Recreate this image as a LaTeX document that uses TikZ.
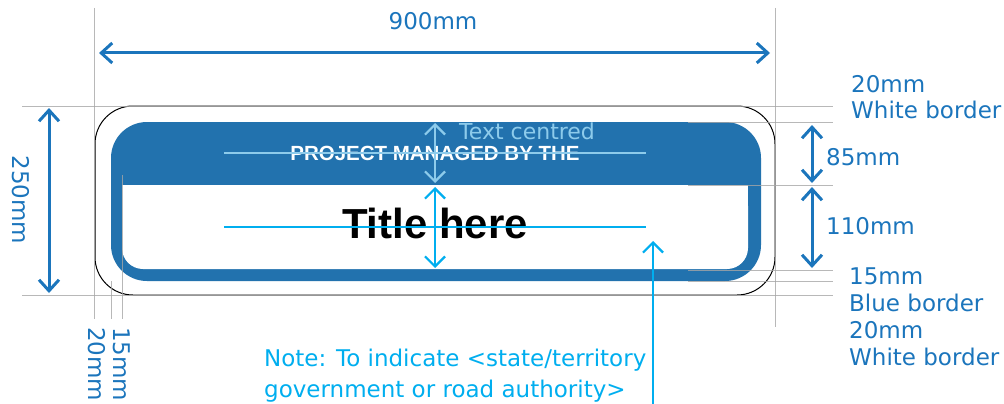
\documentclass[tikz,border=0pt]{standalone}
\usepackage{fontspec}
\setmainfont{DejaVu Sans}
\newfontfamily\arialfont{Liberation Sans}
\usetikzlibrary{arrows.meta}

\definecolor{signblue}{HTML}{2272AE}
\definecolor{dimblue}{HTML}{1B75BC}
\definecolor{paleblue}{HTML}{8DCBEB}
\definecolor{cyanline}{HTML}{00AEEF}
\definecolor{guidegrey}{HTML}{A6A6A6}

\tikzset{
  guide/.style={guidegrey, line width=1pt, opacity=0.8},
  barb/.tip={Straight Barb[length=11pt,width=20pt]},
  dimarrow/.style={dimblue, line width=3pt, barb-barb},
  midarrow/.style={line width=2.2pt, {Straight Barb[length=10pt,width=20pt]}-{Straight Barb[length=10pt,width=20pt]}},
  dimlabel/.style={dimblue, inner sep=0pt, font=\fontsize{23}{26}\selectfont},
}

\begin{document}
\begin{tikzpicture}[x=1pt,y=-1pt]
  \useasboundingbox (0,0) rectangle (1004,404);
  % sign panel
  \draw[black, line width=1pt, fill=white, rounded corners=38pt] (95,106) rectangle (775,295);
  \fill[signblue, rounded corners=36pt] (111,122) rectangle (761,281);
  \fill[white, rounded corners=21pt] (122,185) rectangle (748,269);
  \fill[white] (122,185) rectangle (748,220);
  % guide lines
  \draw[guide] (94,8) -- (94,319);
  \draw[guide] (775,8) -- (775,327);
  \draw[guide] (111,281) -- (111,319);
  \draw[guide] (122,175) -- (122,319);
  \draw[guide] (22,106) -- (833,106);
  \draw[guide] (22,295) -- (833,295);
  \foreach \y in {122,185,270,281}
    \draw[guide] (688,\y) -- (833,\y);
  % sign texts
  \node[font=\arialfont\bfseries\fontsize{20.5}{24}\selectfont, white, inner sep=0pt] (managed) at (435,153) {PROJECT MANAGED BY THE};
  \node[font=\arialfont\bfseries\fontsize{42}{48}\selectfont, black, inner sep=0pt] (title) at (435,223) {Title here};
  % centre lines
  \coordinate (top line l) at (224,153);
  \coordinate (top line r) at (646,153);
  \coordinate (title line l) at (224,227);
  \coordinate (title line r) at (646,227);
  \draw[paleblue, line width=2pt] (top line l) -- (top line r);
  \draw[cyanline, line width=2pt] (title line l) -- (title line r);
  \coordinate (band top) at (435,123);
  \coordinate (band bot) at (435,183);
  \coordinate (field top) at (435,187);
  \coordinate (field bot) at (435,268);
  \draw[midarrow, paleblue] (band top) -- (band bot);
  \draw[midarrow, cyanline] (field top) -- (field bot);
  \node[paleblue, inner sep=0pt, anchor=west, font=\fontsize{22}{26}\selectfont] (centred) at (459,131) {Text centred};
  % note
  \coordinate (note foot) at (653,406);
  \coordinate (note tip) at (653,241);
  \draw[cyanline, line width=2.2pt, -{Straight Barb[length=10pt,width=20pt]}] (note foot) -- (note tip);
  \node[cyanline, inner sep=0pt, anchor=north west, align=left, font=\fontsize{23}{30.5}\selectfont] (note) at (264,349) {Note: To indicate <state/territory\\government or road authority>};
  % dimensions
  \coordinate (width l) at (99,53);
  \coordinate (width r) at (770,53);
  \coordinate (height t) at (49,108);
  \coordinate (height b) at (49,293);
  \coordinate (band t) at (812,125);
  \coordinate (band b) at (812,183);
  \coordinate (field t) at (812,187);
  \coordinate (field b) at (812,268);
  \draw[dimarrow] (width l) -- (width r);
  \draw[dimarrow] (height t) -- (height b);
  \draw[dimarrow] (band t) -- (band b);
  \draw[dimarrow] (field t) -- (field b);
  \node[dimlabel] (width lbl) at (433,21) {900mm};
  \node[dimlabel, rotate=-90] (height lbl) at (21,200) {250mm};
  \node[dimlabel, anchor=west] (band lbl) at (826,157) {85mm};
  \node[dimlabel, anchor=west] (field lbl) at (826,226) {110mm};
  \node[dimlabel, anchor=north west, align=left] (top lbl) at (851,75) {20mm\\White border};
  \node[dimlabel, anchor=north west, align=left, font=\fontsize{23}{27}\selectfont] (bot lbl) at (849,268) {15mm\\Blue border\\20mm\\White border};
  \node[dimlabel, rotate=-90, anchor=west] (white lbl) at (97,327) {20mm};
  \node[dimlabel, rotate=-90, anchor=west] (blue lbl) at (122,327) {15mm};
\end{tikzpicture}
\end{document}
